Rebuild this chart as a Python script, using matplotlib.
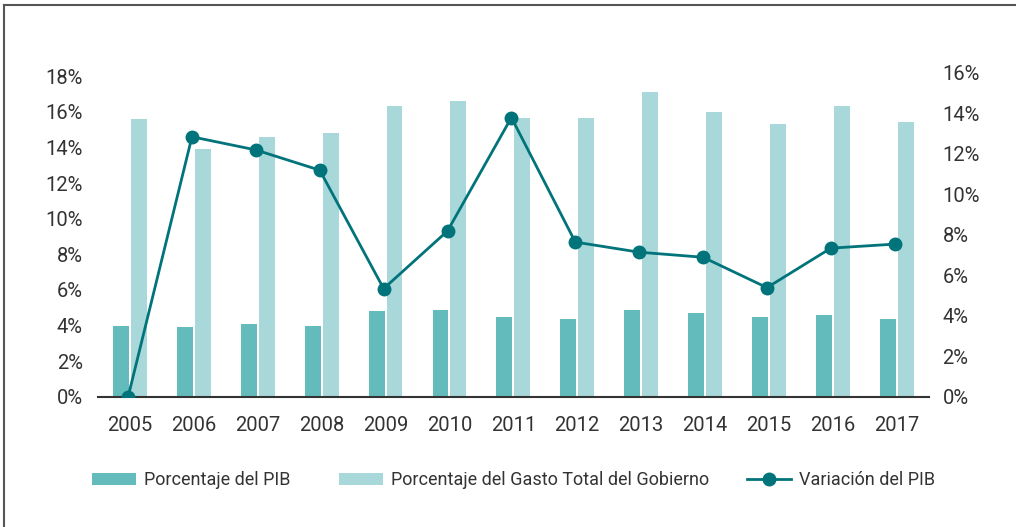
import numpy as np
import matplotlib
matplotlib.use('Agg')
import matplotlib.pyplot as plt
from matplotlib.ticker import FuncFormatter

# datos
years = ['2005', '2006', '2007', '2008', '2009', '2010', '2011',
         '2012', '2013', '2014', '2015', '2016', '2017']
pct_pib = [4.0, 3.9, 4.1, 4.0, 4.8, 4.9, 4.5, 4.4, 4.9, 4.7, 4.5, 4.6, 4.4]
pct_gasto = [15.6, 13.9, 14.6, 14.8, 16.3, 16.6, 15.65, 15.65, 17.1, 16.0, 15.3, 16.3, 15.4]
var_pib = [0.0, 12.85, 12.2, 11.2, 5.35, 8.2, 13.8, 7.65, 7.15, 6.9, 5.4, 7.35, 7.55]

dark = '#63bbbb'
light = '#a8d8d9'
line_c = '#00747a'
txt = '#333333'

plt.rcParams['font.family'] = ['Roboto', 'DejaVu Sans']
plt.rcParams['font.size'] = 14

fig = plt.figure(figsize=(10.16, 5.27), dpi=100)
ax = fig.add_axes([0.0965, 0.2467, 0.8175, 0.6148])
ax2 = ax.twinx()

x = np.arange(len(years))
w = 0.25
b1 = ax.bar(x - 0.14, pct_pib, w, color=dark, label='Porcentaje del PIB', zorder=2)
b2 = ax.bar(x + 0.14, pct_gasto, w, color=light,
            label='Porcentaje del Gasto Total del Gobierno', zorder=2)
l1, = ax2.plot(x - 0.03, var_pib, color=line_c, lw=2, marker='o', ms=9,
               label='Variación del PIB', zorder=3)

ax.set_xlim(-0.5, 12.5)
ax.set_ylim(0, 18.17)
ax2.set_ylim(0, 16)
ax.set_yticks(np.arange(0, 19, 2))
ax2.set_yticks(np.arange(0, 17, 2))
pct = FuncFormatter(lambda v, p: '{:.0f}%'.format(v))
ax.yaxis.set_major_formatter(pct)
ax2.yaxis.set_major_formatter(pct)
ax.set_xticks(x)
ax.set_xticklabels(years)

for a in (ax, ax2):
    for s in a.spines.values():
        s.set_visible(False)
    a.tick_params(length=0, colors=txt, labelsize=14.5)
ax.spines['bottom'].set_visible(True)
ax.spines['bottom'].set_color('#333333')
ax.spines['bottom'].set_linewidth(1.5)
ax.tick_params(axis='y', pad=11)
ax2.tick_params(axis='y', pad=10)
ax.tick_params(axis='x', pad=14)

# leyenda: una por elemento, colocadas como en el original
for h, xpos in [(b1, 0.0906), (b2, 0.3337), (l1, 0.735)]:
    lg = fig.legend([h], [h.get_label()], loc='center left',
                    bbox_to_anchor=(xpos, 0.089), frameon=False,
                    handlelength=2.45, handleheight=0.62, handletextpad=0.45,
                    borderpad=0, borderaxespad=0, fontsize=13)
    for t in lg.get_texts():
        t.set_color(txt)

# marco
fig.add_artist(plt.Line2D([0.004, 1.01], [0.99, 0.99], color='#555555', lw=1.5,
                          transform=fig.transFigure))
fig.add_artist(plt.Line2D([0.004, 0.004], [-0.01, 0.99], color='#555555', lw=1.5,
                          transform=fig.transFigure))

fig.savefig('out.png', dpi=100)
